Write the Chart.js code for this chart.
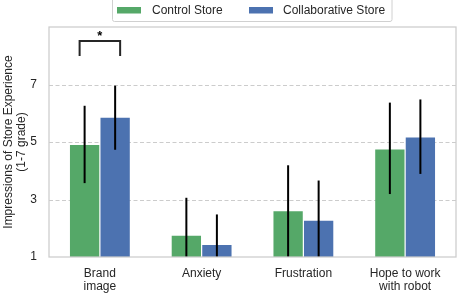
<!DOCTYPE html>
<html><head><meta charset="utf-8">
<script src="https://cdn.jsdelivr.net/npm/chart.js@4.4.1/dist/chart.umd.min.js"></script>
<style>html,body{margin:0;padding:0;background:#fff}#wrap{width:457px;height:293px}</style>
</head><body><div id="wrap"><canvas id="c" width="457" height="293"></canvas></div>
<script>
const categories = [["Brand","image"],"Anxiety","Frustration",["Hope to work","with robot"]];
const seriesNames = ["Control Store","Collaborative Store"];
const controlMeans = [4.90, 1.74, 2.59, 4.74];
const controlErrLow = [3.57, 0.42, 0.99, 3.19];
const controlErrHigh = [6.26, 3.06, 4.19, 6.37];
const collabMeans = [5.84, 1.42, 2.26, 5.16];
const collabErrLow = [4.73, 0.36, 0.86, 3.89];
const collabErrHigh = [6.96, 2.48, 3.66, 6.48];
const yTicks = [1, 3, 5, 7];
const sigBracket = {category: 0, low: 7.99, high: 8.51, label: "*"};

const colors = ["#55A868", "#4C72B0"];
const FONT = "'Liberation Sans', Arial, sans-serif";
const TXT = "#262626";

const dashedGrid = {
  id: 'dashedGrid',
  beforeDatasetsDraw(chart) {
    const ctx = chart.ctx, y = chart.scales.y, a = chart.chartArea;
    ctx.save();
    ctx.strokeStyle = '#cccccc'; ctx.lineWidth = 1; ctx.setLineDash([4, 2.5]);
    yTicks.forEach(v => {
      if (v === y.min) return;
      const py = Math.round(y.getPixelForValue(v)) + 0.5;
      ctx.beginPath(); ctx.moveTo(a.left, py); ctx.lineTo(a.right, py); ctx.stroke();
    });
    ctx.restore();
  }
};

const errorBars = {
  id: 'errorBars',
  afterDatasetsDraw(chart) {
    const ctx = chart.ctx, y = chart.scales.y, a = chart.chartArea;
    const errs = [[controlErrLow, controlErrHigh],[collabErrLow, collabErrHigh]];
    ctx.save();
    ctx.beginPath(); ctx.rect(a.left, a.top, a.right-a.left, a.bottom-a.top); ctx.clip();
    ctx.strokeStyle = '#000'; ctx.lineWidth = 2;
    chart.data.datasets.forEach((ds, di) => {
      const meta = chart.getDatasetMeta(di);
      meta.data.forEach((bar, i) => {
        ctx.beginPath();
        ctx.moveTo(bar.x, y.getPixelForValue(errs[di][0][i]));
        ctx.lineTo(bar.x, y.getPixelForValue(errs[di][1][i]));
        ctx.stroke();
      });
    });
    ctx.restore();
    const b0 = chart.getDatasetMeta(0).data[sigBracket.category];
    const b1 = chart.getDatasetMeta(1).data[sigBracket.category];
    const x0 = b0.x - 5, x1 = b1.x + 5;
    const yl = y.getPixelForValue(sigBracket.low), yh = y.getPixelForValue(sigBracket.high);
    ctx.save();
    ctx.strokeStyle = '#262626'; ctx.lineWidth = 2;
    ctx.beginPath(); ctx.moveTo(x0, yl); ctx.lineTo(x0, yh); ctx.lineTo(x1, yh); ctx.lineTo(x1, yl); ctx.stroke();
    ctx.fillStyle = '#000'; ctx.font = 'bold 13px ' + FONT; ctx.textAlign = 'center'; ctx.textBaseline = 'alphabetic';
    ctx.fillText(sigBracket.label, (x0+x1)/2, yh - 1);
    ctx.restore();
  }
};

const frameAndLegend = {
  id: 'frameAndLegend',
  afterDraw(chart) {
    const ctx = chart.ctx, a = chart.chartArea;
    ctx.save();
    ctx.strokeStyle = '#cccccc'; ctx.lineWidth = 1.25;
    ctx.strokeRect(a.left, a.top, a.right - a.left, a.bottom - a.top);
    ctx.font = '12px ' + FONT;
    const lx = 112.5, lw = 279.5, ly = -6, lh = 27.5;
    ctx.fillStyle = '#fff';
    ctx.fillRect(lx, ly, lw, lh);
    ctx.strokeStyle = '#d0d0d0'; ctx.lineWidth = 1;
    ctx.beginPath(); ctx.roundRect(lx, ly, lw, lh, 2); ctx.stroke();
    const items = [{sx:117, tx:152}, {sx:249, tx:283}];
    chart.data.datasets.forEach((ds, i) => {
      ctx.fillStyle = ds.backgroundColor;
      ctx.fillRect(items[i].sx, 7, 24, 6.5);
      ctx.fillStyle = TXT; ctx.textBaseline = 'middle'; ctx.textAlign = 'left';
      ctx.fillText(ds.label, items[i].tx, 10.5);
    });
    ctx.restore();
  }
};

new Chart(document.getElementById('c'), {
  type: 'bar',
  data: {
    labels: categories,
    datasets: [
      {label: seriesNames[0], data: controlMeans, backgroundColor: colors[0], borderWidth: 0},
      {label: seriesNames[1], data: collabMeans, backgroundColor: colors[1], borderWidth: 0}
    ]
  },
  options: {
    responsive: false, animation: false, devicePixelRatio: 1,
    layout: {padding: {top: 27, right: 1, left: 0, bottom: 0}},
    datasets: {bar: {categoryPercentage: 0.6, barPercentage: 0.96}},
    plugins: {legend: {display: false}, tooltip: {enabled: false}},
    scales: {
      x: {
        grid: {display: false, drawTicks: false}, border: {display: false},
        ticks: {color: TXT, font: {family: FONT, size: 12, lineHeight: 1.1}, padding: 10, maxRotation: 0},
        afterFit(s) { s.height = 36; }
      },
      y: {
        min: 1, max: 9,
        afterBuildTicks(s) { s.ticks = yTicks.map(v => ({value: v})); },
        grid: {display: false, drawTicks: false},
        border: {display: false},
        ticks: {color: TXT, font: {family: FONT, size: 12}, padding: 12},
        title: {display: true, text: ['Impressions of Store Experience', '(1-7 grade)'], color: TXT, font: {family: FONT, size: 12, lineHeight: 1.1}, padding: {top: 2, bottom: 0}},
        afterFit(s) { s.width = 49; }
      }
    }
  },
  plugins: [dashedGrid, errorBars, frameAndLegend]
});
</script></body></html>
